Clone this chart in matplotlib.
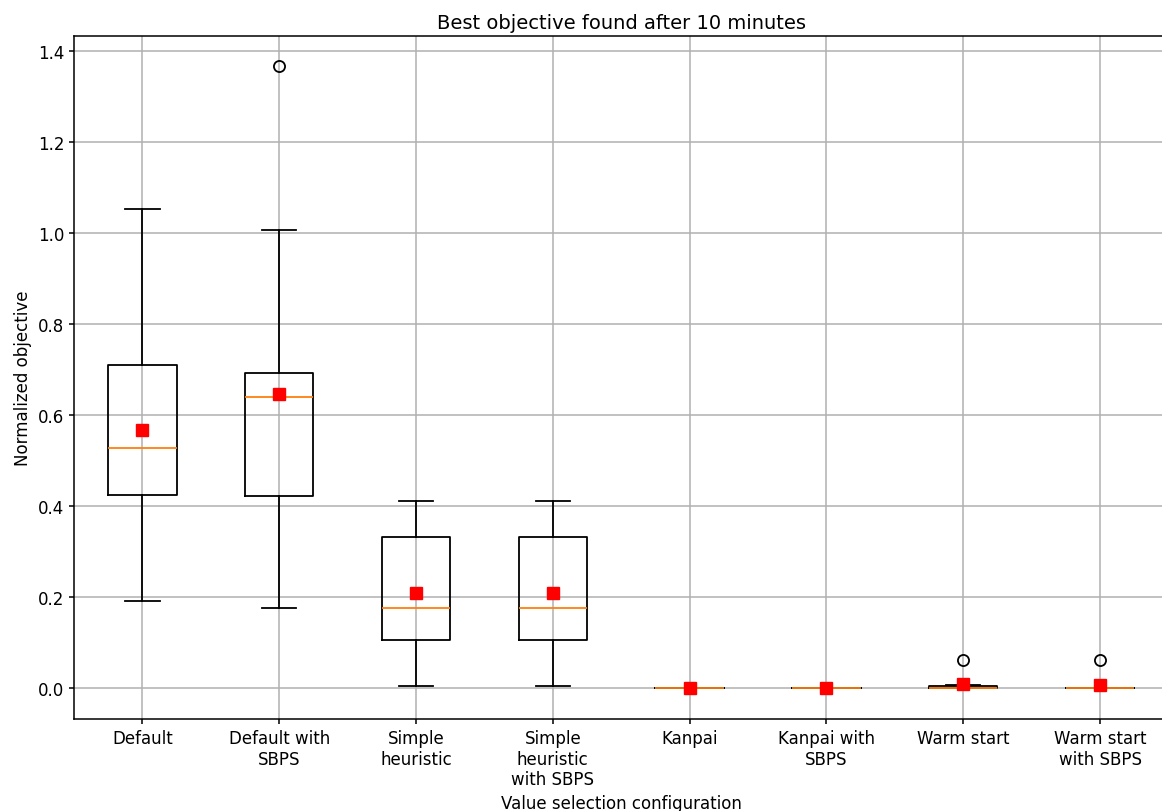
import matplotlib
matplotlib.use("Agg")
import matplotlib.pyplot as plt

# Box statistics
labels = ["Default", "Default with\nSBPS", "Simple\nheuristic", "Simple\nheuristic\nwith SBPS",
          "Kanpai", "Kanpai with\nSBPS", "Warm start", "Warm start\nwith SBPS"]
whislo = [0.192, 0.176, 0.004, 0.004, 0.0, 0.0, 0.0, 0.0]
q1 = [0.425, 0.422, 0.105, 0.105, 0.0, 0.0, 0.0, 0.0]
med = [0.527, 0.640, 0.175, 0.175, 0.0, 0.0, 0.0, 0.0]
q3 = [0.709, 0.692, 0.333, 0.333, 0.0, 0.0, 0.004, 0.0]
whishi = [1.052, 1.006, 0.410, 0.410, 0.0, 0.0, 0.007, 0.0]
means = [0.568, 0.647, 0.210, 0.210, 0.0, 0.0, 0.008, 0.006]
fliers = [[], [1.366], [], [], [], [], [0.062], [0.062]]

stats = []
for i in range(len(labels)):
    stats.append({
        "label": labels[i], "whislo": whislo[i], "q1": q1[i], "med": med[i],
        "q3": q3[i], "whishi": whishi[i], "mean": means[i], "fliers": fliers[i],
    })

fig = plt.figure(figsize=(11.62, 8.12), dpi=100)
ax = fig.add_axes([74 / 1162, 1 - 720 / 812, 1094.5 / 1162, 683 / 812])

lw = 1.3
ax.bxp(stats, showmeans=True,
       boxprops=dict(linewidth=lw), whiskerprops=dict(linewidth=lw),
       capprops=dict(linewidth=lw), medianprops=dict(linewidth=lw),
       meanprops=dict(marker="s", markerfacecolor="red", markeredgecolor="red", markersize=8),
       flierprops=dict(marker="o", markerfacecolor="none", markeredgecolor="black",
                       markersize=8, markeredgewidth=1.3))

ax.set_title("Best objective found after 10 minutes", fontsize=14)
ax.set_xlabel("Value selection configuration", fontsize=12)
ax.set_ylabel("Normalized objective", fontsize=12)
ax.tick_params(labelsize=12, width=1.1)
ax.set_ylim(-0.068, 1.433)
ax.set_xlim(0.5, 8.5)
ax.grid(True, color="#b0b0b0", linewidth=1.1)
ax.set_axisbelow(True)
for s in ax.spines.values():
    s.set_linewidth(1.1)

fig.savefig("out.png", dpi=100)
